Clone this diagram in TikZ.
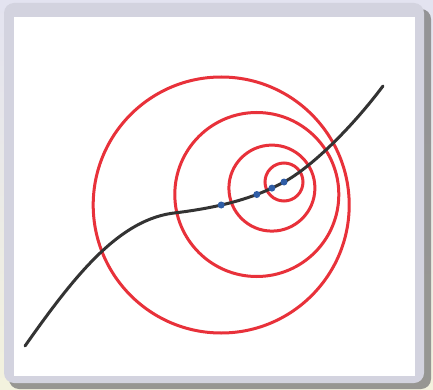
\documentclass[tikz,border=0pt]{standalone}
\usepackage{tikz}
\definecolor{ringred}{HTML}{E8313A}
\definecolor{dotblue}{HTML}{2F5DA6}
\definecolor{curvegray}{HTML}{333333}
\definecolor{framegray}{HTML}{D3D3DF}
\definecolor{bgtop}{HTML}{E3E3F0}
\definecolor{bgbot}{HTML}{F3F2DE}

\begin{document}
\begin{tikzpicture}[x=1pt,y=-1pt,
  ring/.style={ringred,line width=3pt},
  curve/.style={curvegray,line width=3pt,line cap=round},
  centre/.style={dotblue,fill=dotblue}]
  \useasboundingbox (0,0) rectangle (433,390);
  \shade[top color=bgtop,bottom color=bgbot] (0,0) rectangle (433,390);
  \fill[black!50,opacity=0.8,rounded corners=10pt] (9,9) rectangle (431,389);
  \fill[framegray,rounded corners=10pt] (4,3) rectangle (424,383);
  \fill[white] (14,17) rectangle (415,376);

  % centres sit on the curve
  \coordinate (c1) at (221.2,205);
  \coordinate (c2) at (256.8,194.5);
  \coordinate (c3) at (271.9,188.1);
  \coordinate (c4) at (284,182);
  \coordinate (start) at (25,346);
  \coordinate (bend) at (176.7,212.7);
  \coordinate (end) at (383,86);

  \draw [ring] (c1) circle[radius=128];
  \draw [ring] (c2) circle[radius=82];
  \draw [ring] (c3) circle[radius=43];
  \draw [ring] (c4) circle[radius=19];

  \draw [curve] (start) .. controls (75,275) and (120,218) .. (bend)
    .. controls (230,206) and (260,195) .. (c4)
    .. controls (310,168) and (350,130) .. (end);

  \foreach \c in {c1,c2,c3,c4}
    \fill [centre] (\c) circle[radius=3.5];
\end{tikzpicture}
\end{document}
